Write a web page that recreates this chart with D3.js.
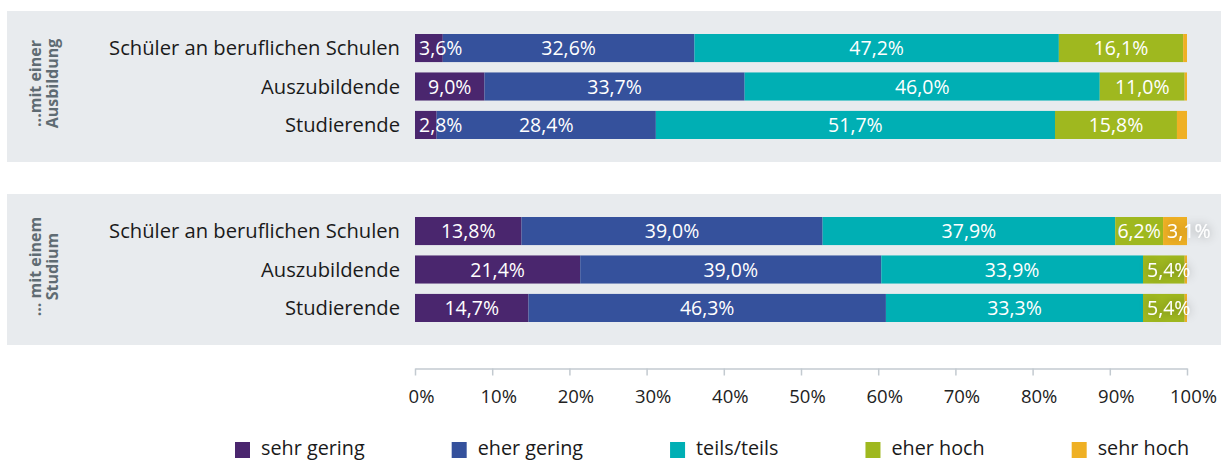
<!DOCTYPE html>
<html>
<head>
<meta charset="utf-8">
<style>
  body { margin: 0; background: #fff; }
  text { font-family: "Open Sans", Lato, sans-serif; }
</style>
</head>
<body>
<script src="https://cdn.jsdelivr.net/npm/d3@7"></script>
<script>

// categories and series
var groups = ["...mit einer|Ausbildung", "... mit einem|Studium"];
var rows = ["Schüler an beruflichen Schulen", "Auszubildende", "Studierende"];
var series = ["sehr gering", "eher gering", "teils/teils", "eher hoch", "sehr hoch"];
var colors = ["#4a266e", "#35519c", "#00afb4", "#9fb81f", "#efb024"];

// values per group, rows in order, series in order (%)
var ausbildung = [
  [3.6, 32.6, 47.2, 16.1, 0.5],
  [9.0, 33.7, 46.0, 11.0, 0.3],
  [2.8, 28.4, 51.7, 15.8, 1.3]
];
var studium = [
  [13.8, 39.0, 37.9, 6.2, 3.1],
  [21.4, 39.0, 33.9, 5.4, 0.3],
  [14.7, 46.3, 33.3, 5.4, 0.3]
];
// which segments carry a printed label (the tiny "sehr hoch" ones don't)
var showLabel = [
  [[1,1,1,1,0],[1,1,1,1,0],[1,1,1,1,0]],
  [[1,1,1,1,1],[1,1,1,1,0],[1,1,1,1,0]]
];
var ticks = [0, 10, 20, 30, 40, 50, 60, 70, 80, 90, 100];

var W = 1221, H = 462;
var svg = d3.select("body").append("svg")
    .attr("width", W)
    .attr("height", H);

var defs = svg.append("defs");
var f = defs.append("filter").attr("id", "glow")
    .attr("x", "-60%").attr("y", "-80%").attr("width", "220%").attr("height", "260%");
f.append("feDropShadow").attr("dx", 0).attr("dy", 0).attr("stdDeviation", 5)
    .attr("flood-color", "#000").attr("flood-opacity", 0.4);

var x = d3.scaleLinear().domain([0, 100]).range([415, 1187]);

var panels = [
  { top: 11, h: 151, data: ausbildung },
  { top: 194, h: 151, data: studium }
];

var fmt = v => v.toFixed(1).replace(".", ",") + "%";

panels.forEach((p, gi) => {
  var g = svg.append("g");

  g.append("rect")
    .attr("x", 7).attr("y", p.top)
    .attr("width", W - 7).attr("height", p.h)
    .attr("fill", "#e8ebee");

  var y = d3.scaleBand()
    .domain(rows)
    .range([p.top + 23, p.top + 128])
    .paddingInner(0.27)
    .paddingOuter(0);

  // side label, rotated, two lines
  var lines = groups[gi].split("|");
  var cy = p.top + p.h / 2 - 3;
  lines.forEach((t, li) => {
    g.append("text")
      .attr("transform", "translate(" + (41 + li * 17) + "," + cy + ") rotate(-90)")
      .attr("text-anchor", "middle")
      .attr("font-size", 16)
      .attr("font-weight", "bold")
      .attr("fill", "#5f6b73")
      .text(t);
  });

  // category labels
  g.selectAll(".cat")
    .data(rows)
    .enter().append("text")
      .attr("x", 400)
      .attr("y", d => y(d) + y.bandwidth() / 2)
      .attr("dy", "0.36em")
      .attr("text-anchor", "end")
      .attr("font-size", 20.2)
      .attr("fill", "#1a1a1a")
      .text(d => d);

  // stacked segments
  p.data.forEach((vals, ri) => {
    var acc = 0;
    var segs = vals.map((v, si) => {
      var s = { v: v, x0: acc, x1: acc + v, si: si, show: showLabel[gi][ri][si] };
      acc += v;
      return s;
    });
    var row = g.append("g");
    row.selectAll("rect")
      .data(segs)
      .enter().append("rect")
        .attr("x", d => x(d.x0))
        .attr("y", y(rows[ri]))
        .attr("width", d => x(d.x1) - x(d.x0))
        .attr("height", y.bandwidth())
        .attr("fill", d => colors[d.si]);

    segs.filter(d => d.show).forEach(d => {
      var t = row.append("text")
        .attr("y", y(rows[ri]) + y.bandwidth() / 2)
        .attr("dy", "0.36em")
        .attr("font-size", 19.5)
        .attr("fill", "#fff")
        .text(fmt(d.v));
      var tw = t.node().getComputedTextLength();
      var segW = x(d.x1) - x(d.x0);
      if (tw > segW - 2) {
        t.attr("x", x(d.x0) + 4).attr("text-anchor", "start");
        if (x(d.x0) + 4 + tw > x(100)) t.attr("filter", "url(#glow)");
      } else {
        t.attr("x", (x(d.x0) + x(d.x1)) / 2).attr("text-anchor", "middle");
      }
    });
  });
});

// axis
var axis = svg.append("g")
    .attr("transform", "translate(0,368.5)")
    .call(d3.axisBottom(x).tickValues(ticks).tickSize(7).tickSizeOuter(0)
      .tickFormat(d => d + "%"));
axis.select(".domain").attr("stroke", "#c3cad0").attr("stroke-width", 1.5);
axis.selectAll(".tick line").attr("stroke", "#c3cad0").attr("stroke-width", 1.5);
axis.selectAll(".tick text")
    .attr("font-size", 18.5)
    .attr("font-family", "'Open Sans', Lato, sans-serif")
    .attr("fill", "#222")
    .attr("y", 21)
    .attr("dx", 6)
    .attr("dy", "0.71em");

// legend
var lg = svg.append("g");
var lx = 235;
series.forEach((s, i) => {
  lg.append("rect")
    .attr("x", lx).attr("y", 442)
    .attr("width", 15).attr("height", 16)
    .attr("fill", colors[i]);
  var t = lg.append("text")
    .attr("x", lx + 26).attr("y", 455)
    .attr("font-size", 19.8)
    .attr("fill", "#1a1a1a")
    .text(s);
  lx += 26 + t.node().getComputedTextLength() + 87;
});

</script>
</body>
</html>
